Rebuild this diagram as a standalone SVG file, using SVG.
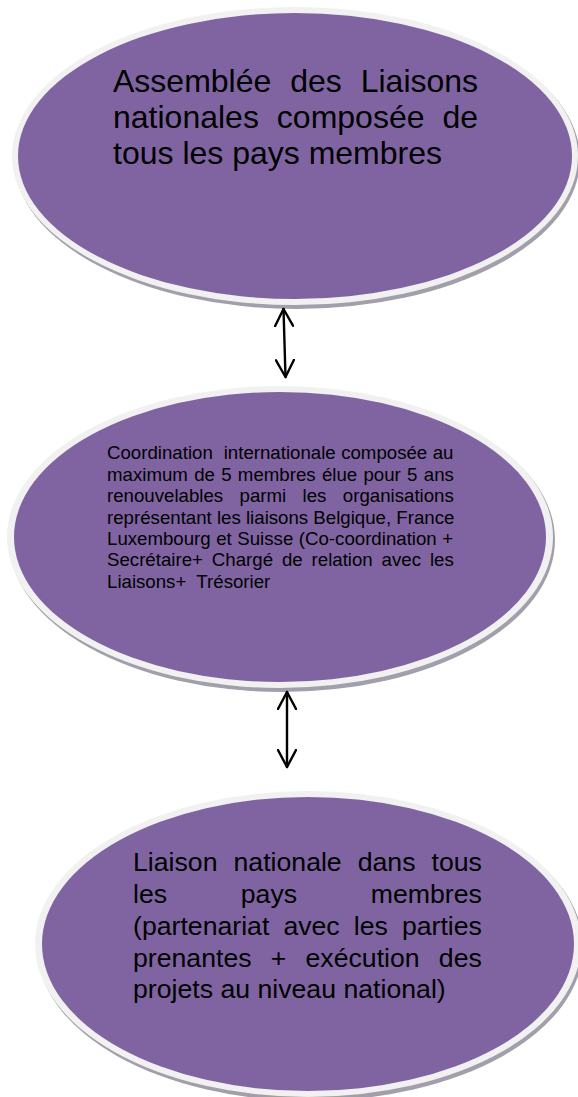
<svg xmlns="http://www.w3.org/2000/svg" width="578" height="1097" viewBox="0 0 578 1097">
<style>
.shadow{fill:#a39eab}
.rim{fill:#f1f1f1}
.body{fill:#8064a2}
.t{font-family:"Liberation Sans",Arial,sans-serif;fill:#000}
.t1{font-size:32px}
.t2{font-size:18.67px}
.t3{font-size:26.67px}
.conn{stroke:#000;stroke-width:2.4;fill:none;stroke-linecap:round;stroke-linejoin:round}
</style>
<defs>
<marker id="ah" viewBox="0 0 20 20" refX="18" refY="10" markerWidth="20" markerHeight="20" markerUnits="userSpaceOnUse" orient="auto-start-reverse">
<path d="M1,1 L18,10 L1,19" fill="none" stroke="#000" stroke-width="2.4" stroke-linecap="round" stroke-linejoin="round"/>
</marker>
</defs>
<rect width="578" height="1097" fill="#fff"/>

<g id="node-assemblee">
<ellipse class="shadow" cx="297" cy="159" rx="283" ry="150"/>
<ellipse class="rim" cx="295" cy="156" rx="283" ry="149"/>
<ellipse class="body" cx="295" cy="156" rx="277" ry="143"/>
<text class="t t1" x="113" y="92" style="word-spacing:10px">Assemblée des Liaisons</text>
<text class="t t1" x="113" y="128" style="word-spacing:9.05px">nationales composée de</text>
<text class="t t1" x="113" y="164">tous les pays membres</text>
</g>

<g id="node-coordination">
<ellipse class="shadow" cx="282" cy="540" rx="273" ry="152"/>
<ellipse class="rim" cx="280" cy="537" rx="273" ry="151"/>
<ellipse class="body" cx="280" cy="537" rx="266" ry="145"/>
<text class="t t2" x="107" y="459" xml:space="preserve" style="word-spacing:0.26px">Coordination  internationale composée au</text>
<text class="t t2" x="107" y="480.5" style="word-spacing:1.11px">maximum de 5 membres élue pour 5 ans</text>
<text class="t t2" x="107" y="502" style="word-spacing:11.2px">renouvelables parmi les organisations</text>
<text class="t t2" x="107" y="523.5">représentant les liaisons Belgique, France</text>
<text class="t t2" x="107" y="545" style="word-spacing:0.33px">Luxembourg et Suisse (Co-coordination +</text>
<text class="t t2" x="107" y="566" style="word-spacing:3.71px">Secrétaire+ Chargé de relation avec les</text>
<text class="t t2" x="107" y="587.5" xml:space="preserve">Liaisons+  Trésorier</text>
</g>

<g id="node-liaison">
<ellipse class="shadow" cx="310" cy="947" rx="273" ry="154"/>
<ellipse class="rim" cx="308" cy="944" rx="273" ry="153"/>
<ellipse class="body" cx="308" cy="944" rx="266" ry="147"/>
<text class="t t3" x="133" y="871" style="word-spacing:8.62px">Liaison nationale dans tous</text>
<text class="t t3" x="133" y="903" style="word-spacing:66.3px">les pays membres</text>
<text class="t t3" x="133" y="935" style="word-spacing:6.66px">(partenariat avec les parties</text>
<text class="t t3" x="133" y="967" style="word-spacing:11.8px">prenantes + exécution des</text>
<text class="t t3" x="133" y="998">projets au niveau national)</text>
</g>

<g id="connectors">
<line class="conn" x1="283.5" y1="309" x2="285.5" y2="377" marker-start="url(#ah)" marker-end="url(#ah)"/>
<line class="conn" x1="287" y1="692" x2="287" y2="767" marker-start="url(#ah)" marker-end="url(#ah)"/>
</g>
</svg>
